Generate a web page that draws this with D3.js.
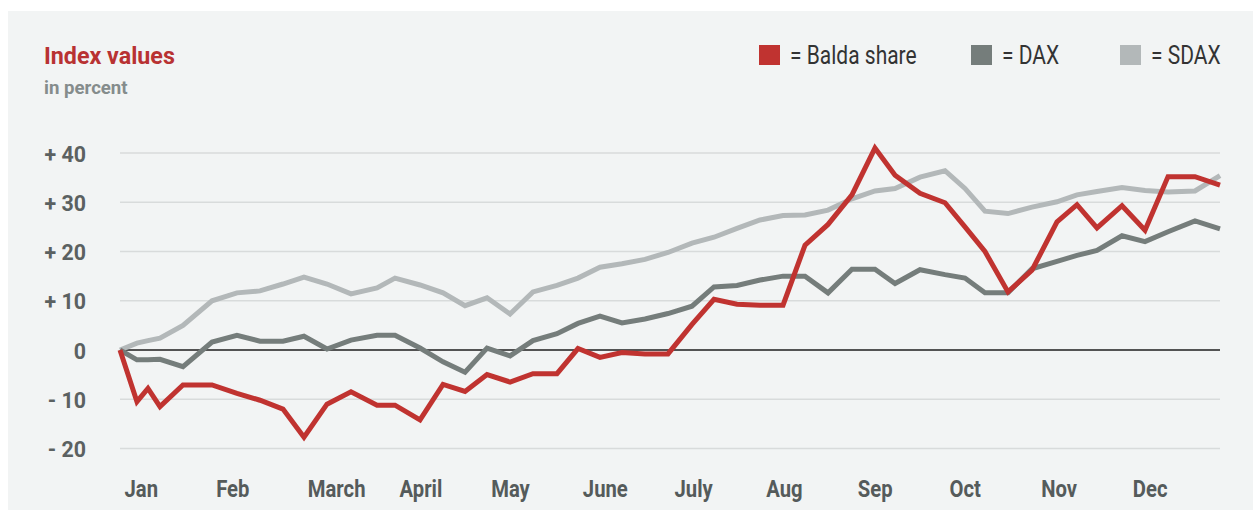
<!DOCTYPE html>
<html>
<head>
<meta charset="utf-8">
<script src="https://cdn.jsdelivr.net/npm/d3@7"></script>
<style>
  html, body { margin: 0; padding: 0; background: #ffffff; }
  svg { display: block; }
  text { font-family: "Roboto", "Liberation Sans", sans-serif; }
</style>
</head>
<body>
<svg id="chart" width="1253" height="510"></svg>
<script>
// ---- data ----
const monthLabels = ["Jan","Feb","March","April","May","June","July","Aug","Sep","Oct","Nov","Dec"];
// position of each observation, in months from 1 January (weekly data)
const positions = [0, 0.185, 0.305, 0.436, 0.687, 1.004, 1.276, 1.527, 1.778, 2.007,
  2.258, 2.520, 2.804, 3.000, 3.273, 3.524, 3.764, 4.004, 4.255, 4.505,
  4.767, 4.996, 5.236, 5.476, 5.727, 5.978, 6.240, 6.480, 6.731, 6.982,
  7.233, 7.473, 7.724, 7.985, 8.236, 8.455, 8.727, 9.000, 9.218, 9.436,
  9.687, 9.949, 10.222, 10.440, 10.658, 10.931, 11.182, 11.433, 11.727, 12.000];
const balda = [0, -10.5, -7.8, -11.5, -7.1, -7.1, -8.8, -10.2, -12, -17.7,
  -11, -8.5, -11.2, -11.2, -14.2, -7, -8.4, -5, -6.5, -4.8,
  -4.8, 0.3, -1.5, -0.5, -0.8, -0.8, 5.2, 10.3, 9.3, 9.1,
  9.1, 21.3, 25.5, 31.5, 41, 35.5, 31.8, 29.9, 25, 20,
  11.8, 16.2, 26, 29.5, 24.8, 29.3, 24.3, 35.2, 35.2, 33.5];
const dax = [0, -2, -2, -1.9, -3.4, 1.6, 3, 1.8, 1.8, 2.8,
  0.2, 2, 3, 3, 0.4, -2.4, -4.5, 0.4, -1.2, 1.9,
  3.3, 5.4, 6.9, 5.5, 6.3, 7.4, 8.9, 12.8, 13.1, 14.2,
  15, 15, 11.6, 16.4, 16.4, 13.5, 16.3, 15.3, 14.6, 11.6,
  11.6, 16.5, 18, 19.2, 20.2, 23.2, 22.0, 24, 26.2, 24.6];
const sdax = [0, 1.4, 1.9, 2.4, 5, 10, 11.6, 12, 13.4, 14.8,
  13.4, 11.4, 12.6, 14.6, 13.2, 11.6, 9, 10.6, 7.3, 11.8,
  13.1, 14.6, 16.8, 17.5, 18.4, 19.8, 21.7, 22.9, 24.7, 26.4,
  27.3, 27.4, 28.4, 30.7, 32.3, 32.8, 35.1, 36.4, 32.8, 28.2,
  27.7, 29, 30.1, 31.5, 32.2, 33.0, 32.4, 32.1, 32.3, 35.4];
const yTicks = [-20, -10, 0, 10, 20, 30, 40];
const seriesNames = ["= Balda share", "= DAX", "= SDAX"];
const seriesColors = ["#c03330", "#757d7b", "#b3b8b9"];

// ---- layout ----
const svg = d3.select("#chart");
const W = 1253, H = 510;
const left = 120, right = 1220;

svg.append("rect").attr("x", 8).attr("y", 11).attr("width", W - 8).attr("height", H - 11)
  .attr("fill", "#f2f4f4");

const x = d3.scaleLinear().domain([0, 12]).range([left, right]);
const y = d3.scaleLinear().domain([0, 40]).range([350, 153]);

// condensed-looking text helper
function label(parent, tx, ty, str, size, sx, opts) {
  const t = parent.append("text")
    .attr("transform", `translate(${tx},${ty}) scale(${sx},1)`)
    .attr("font-size", size)
    .text(str);
  Object.entries(opts || {}).forEach(([k, v]) => t.attr(k, v));
  return t;
}

// gridlines
svg.append("g").selectAll("line").data(yTicks.filter(d => d !== 0)).join("line")
  .attr("x1", left).attr("x2", right)
  .attr("y1", d => y(d)).attr("y2", d => y(d))
  .attr("stroke", "#d8dbdb").attr("stroke-width", 1.5);

// y axis labels
const yAxis = d3.axisLeft(y).tickValues(yTicks).tickSize(0).tickPadding(0)
  .tickFormat(d => d > 0 ? "+ " + d : (d < 0 ? "- " + Math.abs(d) : "0"));
const gy = svg.append("g").attr("transform", "translate(86,0)").call(yAxis);
gy.select(".domain").remove();
gy.selectAll("text").attr("font-size", 22.5).attr("font-weight", "bold")
  .attr("fill", "#5b6161").attr("x", 0).attr("dy", "0.36em")
  .attr("transform", "scale(0.95,1)")
  .style("font-family", '"Roboto", sans-serif');

// x axis month labels
const xAxis = d3.axisBottom(x).tickValues(d3.range(12)).tickSize(0).tickPadding(0)
  .tickFormat(i => monthLabels[i]);
const gx = svg.append("g").attr("transform", "translate(0,497)").call(xAxis);
gx.select(".domain").remove();
gx.selectAll("text").attr("font-size", 23).attr("font-weight", "bold")
  .attr("fill", "#555b5b").attr("text-anchor", "start")
  .attr("x", 4 / 0.88).attr("y", 0).attr("dy", 0)
  .attr("transform", "scale(0.88,1)")
  .style("font-family", '"Roboto", sans-serif');

// zero line
svg.append("line").attr("x1", left).attr("x2", right)
  .attr("y1", y(0)).attr("y2", y(0)).attr("stroke", "#1e1e1e").attr("stroke-width", 1.5);

// lines
const line = d3.line().x((d, i) => x(positions[i])).y(d => y(d));
const allSeries = [sdax, dax, balda];
const allColors = [seriesColors[2], seriesColors[1], seriesColors[0]];
svg.append("g").selectAll("path").data(allSeries).join("path")
  .attr("d", d => line(d))
  .attr("fill", "none")
  .attr("stroke", (d, i) => allColors[i])
  .attr("stroke-width", 5)
  .attr("stroke-linejoin", "miter")
  .attr("stroke-miterlimit", 4);

// title
label(svg, 44, 64, "Index values", 24, 0.97, {"font-weight": "bold", "fill": "#b83232"});
label(svg, 44, 94, "in percent", 19, 0.98, {"font-weight": "bold", "fill": "#858c8c"});

// legend
const legendX = [759, 971, 1120];
seriesNames.forEach((name, i) => {
  svg.append("rect").attr("x", legendX[i]).attr("y", 45).attr("width", 21).attr("height", 20)
    .attr("fill", seriesColors[i]);
  label(svg, legendX[i] + 31, 64, name, 25, 0.84, {"fill": "#333333"});
});
</script>
</body>
</html>
